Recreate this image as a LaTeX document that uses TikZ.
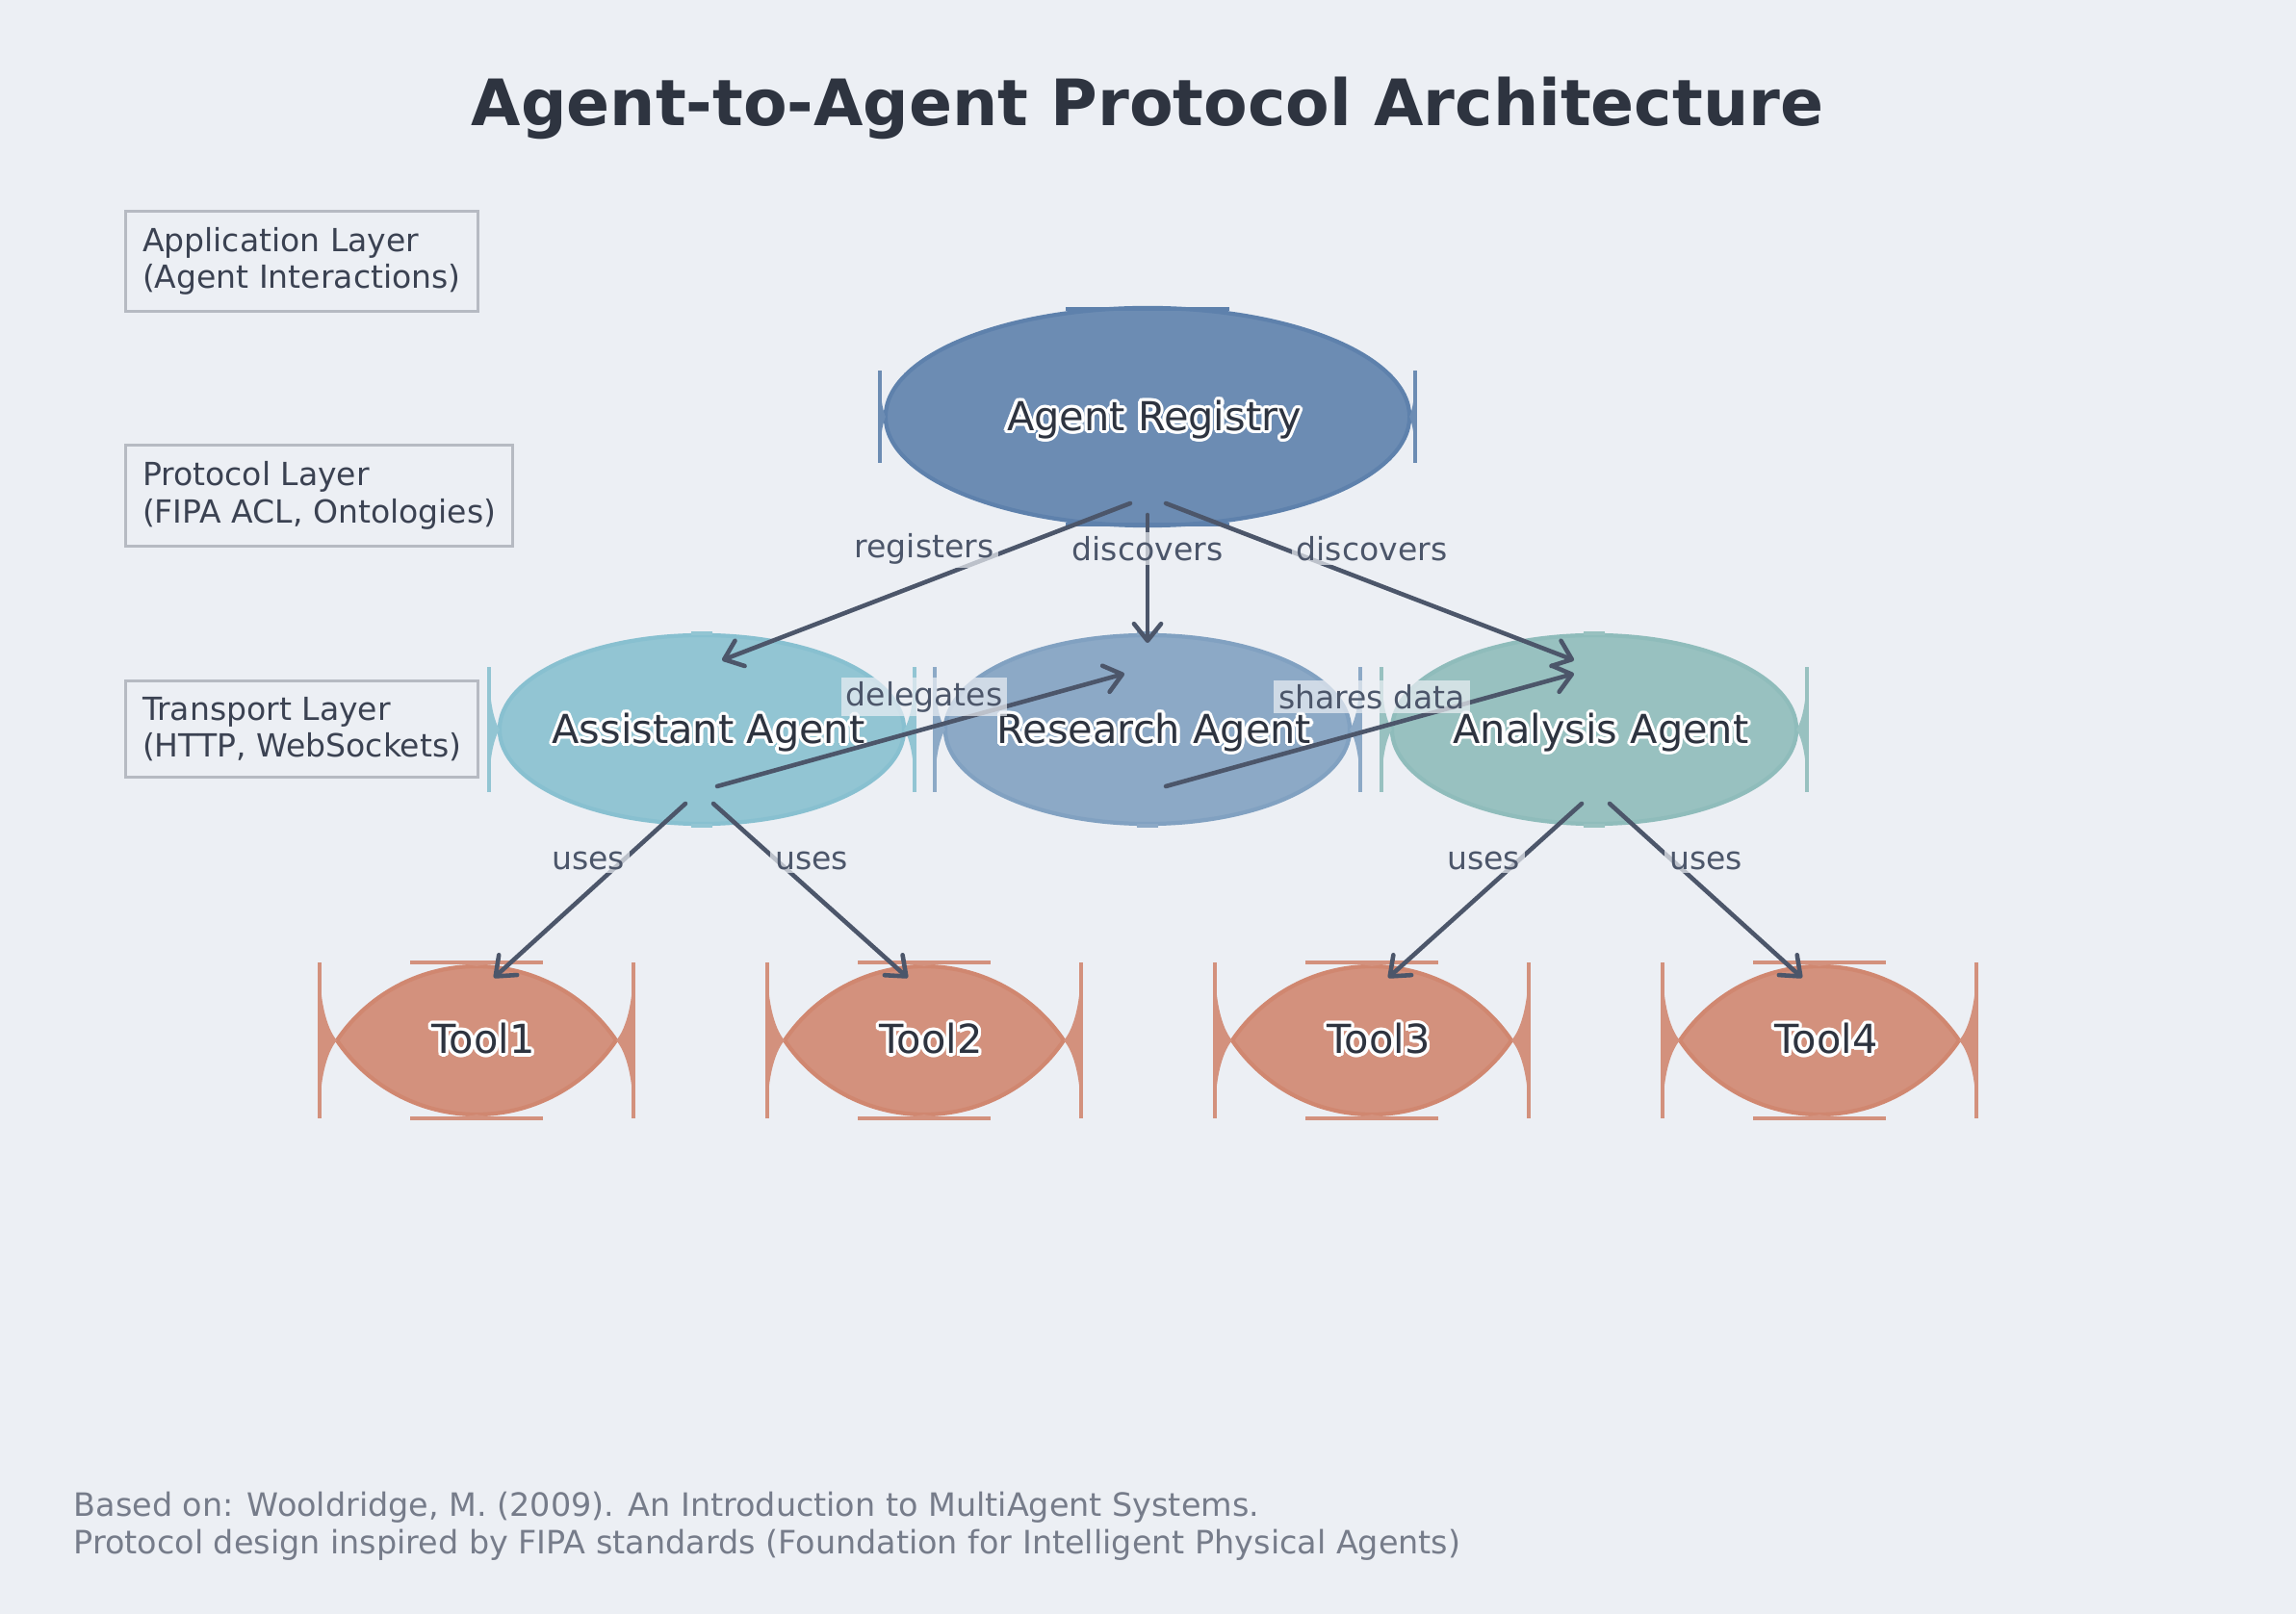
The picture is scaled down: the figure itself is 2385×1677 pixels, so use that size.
\documentclass[tikz,border=0pt]{standalone}
\usepackage{fontspec}
\setmainfont{DejaVu Sans}
\usepackage{contour}
\contourlength{0.9pt}
\usetikzlibrary{positioning,calc,arrows.meta,shapes.geometric}
\definecolor{bgcol}{HTML}{ECEFF4}
\definecolor{ink}{HTML}{2E3440}
\definecolor{layertxt}{HTML}{3B4252}
\definecolor{layerline}{RGB}{182,186,194}
\definecolor{edgecol}{HTML}{4C566A}
\definecolor{footcol}{HTML}{767C8A}
\definecolor{regline}{HTML}{5E81AC}
\definecolor{regfill}{RGB}{108,140,179}
\definecolor{asstline}{HTML}{88C0D0}
\definecolor{asstfill}{RGB}{146,197,211}
\definecolor{resline}{HTML}{81A1C1}
\definecolor{resfill}{RGB}{140,169,198}
\definecolor{analine}{HTML}{8FBCBB}
\definecolor{anafill}{RGB}{152,193,192}
\definecolor{toolline}{HTML}{D08770}
\definecolor{toolfill}{RGB}{211,145,125}
\tikzstyle{layerbox} = [rectangle, draw=layerline, line width=0.85pt, fill=bgcol, text=layertxt, align=left, anchor=west, font=\fontsize{9.4}{10.9}\selectfont, inner xsep=0.175cm, inner ysep=0.17cm]
\tikzstyle{edge} = [draw=edgecol, line width=1.3pt, line cap=round, line join=round, -{Straight Barb[length=5pt,width=8pt,round]}]
\tikzstyle{elabel} = [fill=bgcol, fill opacity=0.7, text opacity=1, text=edgecol, font=\fontsize{9.4}{11}\selectfont, inner xsep=0.05cm, inner ysep=0.04cm]
\newcommand{\ntext}[2]{\makebox[0pt]{\hspace*{0.14cm}\raisebox{#1}[\height][\depth]{\contour{white}{#2}}}}
\newcommand{\sideflare}[4]{%
  \fill[#1] ({-#2},{#3}) .. controls ({-#2},{0.3*#3}) and ({-0.75*#4-0.25*#2},{0.06*#3}) .. ({-#4},0)
    .. controls ({-0.75*#4-0.25*#2},{-0.06*#3}) and ({-#2},{-0.3*#3}) .. ({-#2},{-#3}) -- cycle;
  \draw[#1, line width=1.4pt] ({-#2},{-#3}) -- ({-#2},{#3});
}
\newcommand{\nodeflares}[8]{%
  \sideflare{#1}{#2}{#3}{#4}
  \begin{scope}[xscale=-1]\sideflare{#1}{#2}{#3}{#4}\end{scope}
  \begin{scope}[rotate=90]\sideflare{#8}{#5}{#6}{#7}\end{scope}
  \begin{scope}[rotate=-90]\sideflare{#8}{#5}{#6}{#7}\end{scope}
}
\begin{document}
\begin{tikzpicture}[x=0.01cm, y=0.01cm]
\tikzstyle{registry} = [ellipse, fill=regfill, draw=regline, line width=1.2pt, minimum width=5.44cm, minimum height=2.26cm, inner sep=0pt, text=ink, font=\fontsize{11.8}{14}\selectfont]
\tikzstyle{agent} = [ellipse, line width=1.2pt, minimum width=4.2cm, minimum height=1.96cm, inner sep=0pt, text=ink, font=\fontsize{11.8}{14}\selectfont]
\tikzstyle{tool} = [inner sep=0pt, text=ink, font=\fontsize{11.8}{14}\selectfont]
\fill[bgcol] (0,0) rectangle (2385,-1677);
\useasboundingbox (0,0) rectangle (2385,-1677);

\node[anchor=base, text=ink, font=\fontsize{18.9}{22}\selectfont\bfseries] (title) at (1192,-131) {Agent-to-Agent Protocol Architecture};

\node[layerbox] (app) at (129,-271.5) {Application Layer\\(Agent Interactions)};
\node[layerbox] (proto) at (129,-515) {Protocol Layer\\(FIPA ACL, Ontologies)};
\node[layerbox] (trans) at (129,-757.5) {Transport Layer\\(HTTP, WebSockets)};

\node[registry] (reg) at (1192,-433) {\ntext{-0.045cm}{Agent Registry}};
\begin{scope}[shift={(reg.center)}]
  \nodeflares{regfill}{278}{48}{272}{112}{85}{112}{regline}
\end{scope}

\foreach \n/\x/\f/\l/\t in {asst/729/asstfill/asstline/Assistant Agent, res/1192/resfill/resline/Research Agent, ana/1656/anafill/analine/Analysis Agent}{
  \node[agent, fill=\f, draw=\l] (\n) at (\x,-758) {\ntext{-0.045cm}{\t}};
  \begin{scope}[shift={(\n.center)}]
    \nodeflares{\f}{221}{65}{210}{100}{11}{98}{\f}
  \end{scope}
}

\foreach \i/\x in {1/495, 2/960, 3/1425, 4/1890}{
  \begin{scope}[shift={(\x,-1081)}]
    \filldraw[fill=toolfill, draw=toolline, line width=1.2pt] (-145,0) arc[start angle=145.95, end angle=34.05, radius=175] arc[start angle=-34.05, end angle=-145.95, radius=175] -- cycle;
    \nodeflares{toolfill}{163}{81}{145}{81}{69}{77}{toolfill}
  \end{scope}
  \node[tool] (t\i) at (\x,-1081) {\ntext{0cm}{Tool\i}};
}

\draw[edge] ($(reg.center)+(-18,-90)$) -- ($(asst.center)+(21,72)$);
\draw[edge] ($(reg.center)+(0,-102)$) -- ($(res.center)+(0,90)$);
\draw[edge] ($(reg.center)+(19,-90)$) -- ($(ana.center)+(-21,72)$);
\draw[edge] ($(asst.center)+(16,-59)$) -- ($(res.center)+(-24,58)$);
\draw[edge] ($(res.center)+(19,-59)$) -- ($(ana.center)+(-21,58)$);
\draw[edge] ($(asst.center)+(-17,-77)$) -- ($(t1.center)+(18,65)$);
\draw[edge] ($(asst.center)+(12,-77)$) -- ($(t2.center)+(-17,65)$);
\draw[edge] ($(ana.center)+(-13,-77)$) -- ($(t3.center)+(17,65)$);
\draw[edge] ($(ana.center)+(16,-77)$) -- ($(t4.center)+(-18,65)$);

\node[elabel] (l1) at (960,-570) {registers};
\node[elabel] (l2) at (1192,-570) {discovers};
\node[elabel] (l3) at (1425,-570) {discovers};
\node[elabel] (l4) at (960,-724) {delegates};
\node[elabel] (l5) at (1425,-724) {shares data};
\node[elabel] (l6) at (611,-894) {uses};
\node[elabel] (l7) at (843,-894) {uses};
\node[elabel] (l8) at (1541,-894) {uses};
\node[elabel] (l9) at (1772,-894) {uses};

\node[anchor=west, align=left, inner sep=0pt, text=footcol, font=\fontsize{9.5}{11}\selectfont] (foot) at (76,-1586) {Based on: Wooldridge, M. (2009). An Introduction to MultiAgent Systems.\\Protocol design inspired by FIPA standards (Foundation for Intelligent Physical Agents)};
\end{tikzpicture}
\end{document}
